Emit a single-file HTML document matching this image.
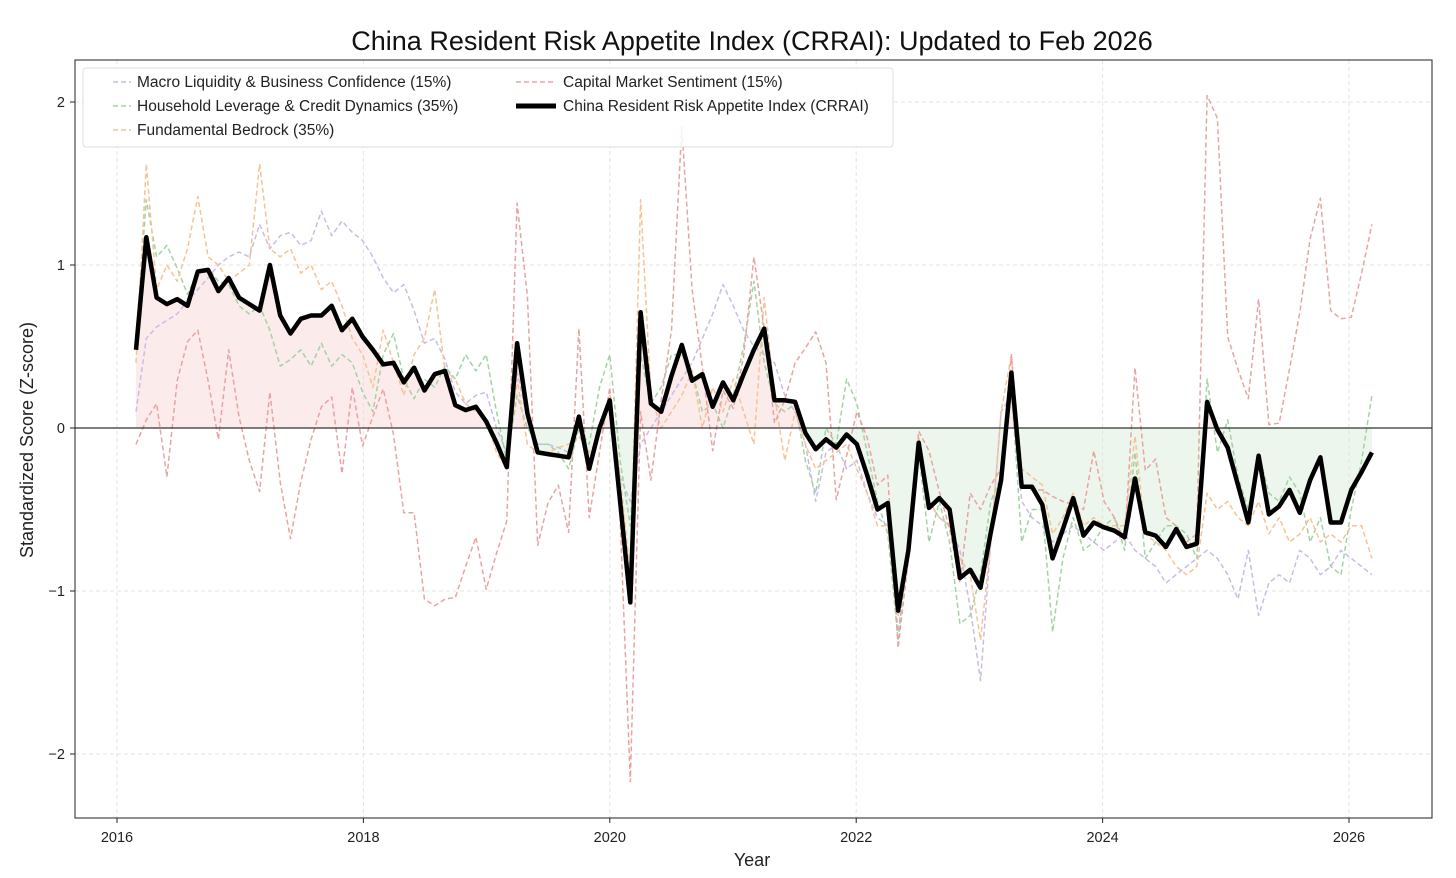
<!DOCTYPE html>
<html><head><meta charset="utf-8"><style>
html,body{margin:0;padding:0;background:#fff;}
svg{display:block;font-family:"Liberation Sans",sans-serif;}
</style></head><body>
<svg id="chart" width="1456" height="878" viewBox="0 0 1456 878" xmlns="http://www.w3.org/2000/svg">
<text x="752" y="50" text-anchor="middle" font-size="27" fill="#111">China Resident Risk Appetite Index (CRRAI): Updated to Feb 2026</text>
<g id="grid"></g>
<g id="fills"></g>
<g id="series"></g>
<rect x="75" y="60" width="1357" height="758" fill="none" stroke="#222" stroke-width="1"/>
<g id="ticks"></g>
<text x="752" y="866" text-anchor="middle" font-size="18" fill="#222">Year</text>
<text transform="translate(33,440) rotate(-90)" text-anchor="middle" font-size="18" fill="#222">Standardized Score (Z-score)</text>
<g>
<rect x="83" y="68" width="810" height="79" rx="3" fill="#fff" fill-opacity="0.85" stroke="#ddd"/>
<g><line x1="113" y1="82" x2="131" y2="82" stroke="#cbbbe6" stroke-width="1.5" stroke-dasharray="5,3"/><text x="137" y="87" font-size="15.5" fill="#222">Macro Liquidity &amp; Business Confidence (15%)</text></g>
<g><line x1="113" y1="106" x2="131" y2="106" stroke="#a3d3a3" stroke-width="1.5" stroke-dasharray="5,3"/><text x="137" y="111" font-size="15.5" fill="#222">Household Leverage &amp; Credit Dynamics (35%)</text></g>
<g><line x1="113" y1="130" x2="131" y2="130" stroke="#f6c395" stroke-width="1.5" stroke-dasharray="5,3"/><text x="137" y="135" font-size="15.5" fill="#222">Fundamental Bedrock (35%)</text></g>
<g><line x1="516" y1="82" x2="556" y2="82" stroke="#eaa3a3" stroke-width="1.5" stroke-dasharray="5,3"/><text x="563" y="87" font-size="15.5" fill="#222">Capital Market Sentiment (15%)</text></g>
<g><line x1="516" y1="106" x2="556" y2="106" stroke="#000" stroke-width="5"/><text x="563" y="111" font-size="15.5" fill="#222">China Resident Risk Appetite Index (CRRAI)</text></g>
</g>
</svg>
<script>
const xTicks=[2016,2018,2020,2022,2024,2026];
const yTicks=[-2,-1,0,1,2];
const startYear=2016.154;
const monthStep=0.0836;
const crrai=[0.48,1.17,0.80,0.76,0.79,0.75,0.96,0.97,0.84,0.92,
0.80,0.76,0.72,1.00,0.69,0.58,0.67,0.69,0.69,0.75,
0.60,0.67,0.56,0.48,0.39,0.40,0.28,0.37,0.23,0.33,
0.35,0.14,0.11,0.13,0.04,-0.09,-0.24,0.52,0.09,-0.15,
-0.16,-0.17,-0.18,0.07,-0.25,0.00,0.17,-0.45,-1.07,0.71,
0.15,0.10,0.32,0.51,0.29,0.33,0.13,0.28,0.17,0.33,
0.48,0.61,0.17,0.17,0.16,-0.03,-0.13,-0.07,-0.12,-0.04,
-0.10,-0.29,-0.50,-0.46,-1.12,-0.75,-0.09,-0.49,-0.43,-0.50,
-0.92,-0.87,-0.98,-0.64,-0.32,0.34,-0.36,-0.36,-0.47,-0.80,
-0.62,-0.43,-0.66,-0.58,-0.61,-0.63,-0.67,-0.31,-0.64,-0.66,
-0.73,-0.62,-0.73,-0.71,0.16,-0.01,-0.12,-0.35,-0.58,-0.17,
-0.53,-0.48,-0.38,-0.52,-0.32,-0.18,-0.58,-0.58,-0.38,-0.27,-0.15];
const macro=[0.10,0.55,0.62,0.66,0.70,0.78,0.85,0.92,1.00,1.05,
1.08,1.05,1.25,1.10,1.18,1.20,1.12,1.15,1.33,1.18,
1.27,1.20,1.15,1.05,0.92,0.83,0.88,0.72,0.52,0.55,
0.42,0.22,0.15,0.20,0.22,0.00,-0.15,0.35,0.05,-0.10,
-0.10,-0.12,-0.15,0.00,-0.20,0.00,0.15,-0.30,-0.45,-0.10,
0.00,0.10,0.20,0.30,0.40,0.55,0.70,0.88,0.75,0.60,
0.50,0.45,0.40,0.20,0.10,-0.10,-0.45,-0.15,-0.10,-0.25,
-0.20,-0.40,-0.55,-0.60,-1.25,-0.70,-0.10,-0.45,-0.55,-0.60,
-0.75,-1.10,-1.55,-0.70,0.10,0.20,-0.45,-0.55,-0.60,-0.70,
-0.65,-0.60,-0.65,-0.70,-0.75,-0.70,-0.65,-0.75,-0.80,-0.85,
-0.95,-0.90,-0.85,-0.80,-0.75,-0.80,-0.90,-1.05,-0.75,-1.15,
-0.95,-0.90,-0.95,-0.75,-0.80,-0.90,-0.85,-0.75,-0.80,-0.85,-0.90];
const household=[0.55,1.40,1.05,1.12,0.98,0.82,0.95,0.98,0.90,0.88,
0.75,0.70,0.75,0.60,0.38,0.42,0.48,0.38,0.52,0.38,
0.45,0.40,0.22,0.10,0.45,0.58,0.30,0.18,0.30,0.25,
0.38,0.30,0.45,0.35,0.45,0.10,-0.20,0.20,0.00,-0.10,
-0.10,-0.15,-0.25,0.00,-0.10,0.25,0.45,-0.20,-0.60,0.45,
0.15,0.25,0.45,0.45,0.35,0.10,0.15,0.00,0.20,0.50,
0.90,0.40,0.15,0.10,0.15,-0.20,-0.40,0.00,-0.10,0.30,
0.15,-0.15,-0.45,-0.65,-1.30,-0.70,-0.15,-0.70,-0.45,-0.70,
-1.20,-1.15,-0.90,-0.45,-0.30,0.25,-0.70,-0.50,-0.50,-1.25,
-0.80,-0.55,-0.75,-0.70,-0.60,-0.55,-0.75,-0.15,-0.80,-0.70,
-0.60,-0.60,-0.65,-0.80,0.30,-0.15,0.05,-0.30,-0.50,-0.15,
-0.40,-0.45,-0.30,-0.40,-0.70,-0.55,-0.85,-0.90,-0.50,-0.20,0.20];
const fundamental=[0.40,1.62,0.85,1.00,0.90,1.10,1.42,1.05,1.00,0.90,
0.95,1.00,1.62,1.10,1.05,1.10,0.95,1.00,0.85,0.90,
0.75,0.55,0.45,0.25,0.60,0.40,0.20,0.45,0.55,0.85,
0.35,0.30,0.15,0.10,0.05,-0.15,-0.25,0.30,-0.10,-0.15,
-0.15,-0.12,-0.10,-0.05,-0.15,-0.05,0.20,-0.30,-0.90,1.40,
0.20,0.00,0.10,0.20,0.35,0.00,0.25,0.10,0.30,0.10,
-0.10,0.80,0.20,-0.20,0.10,-0.10,-0.25,-0.20,-0.15,-0.10,
-0.25,-0.40,-0.60,-0.60,-1.15,-0.70,-0.05,-0.45,-0.55,-0.60,
-0.80,-0.90,-1.30,-0.70,0.10,0.45,-0.25,-0.30,-0.35,-0.65,
-0.55,-0.40,-0.60,-0.55,-0.60,-0.60,-0.60,-0.05,-0.65,-0.70,
-0.75,-0.85,-0.90,-0.85,-0.40,-0.50,-0.45,-0.55,-0.60,-0.45,
-0.65,-0.55,-0.70,-0.65,-0.55,-0.70,-0.65,-0.70,-0.60,-0.60,-0.80];
const capital=[-0.10,0.05,0.15,-0.30,0.29,0.53,0.60,0.29,-0.07,0.48,
0.07,-0.20,-0.39,0.22,-0.33,-0.68,-0.33,-0.07,0.13,0.19,
-0.28,0.25,-0.11,0.07,0.24,-0.04,-0.52,-0.52,-1.05,-1.09,
-1.05,-1.04,-0.85,-0.67,-0.99,-0.77,-0.57,1.38,0.81,-0.72,
-0.46,-0.35,-0.64,0.61,-0.55,-0.15,0.25,-0.55,-2.17,0.10,
-0.32,0.17,0.60,1.85,0.85,0.37,-0.14,0.23,0.12,0.44,
1.05,0.61,0.03,0.17,0.40,0.49,0.59,0.40,-0.44,-0.17,
0.10,-0.06,-0.35,-0.29,-1.35,-0.80,-0.02,-0.14,-0.39,-0.62,
-0.95,-0.40,-0.50,-0.35,-0.25,0.45,-0.35,-0.38,-0.38,-0.42,
-0.45,-0.47,-0.50,-0.14,-0.45,-0.55,-0.70,0.37,-0.26,-0.19,
-0.55,-0.60,-0.70,-0.65,2.04,1.90,0.56,0.36,0.18,0.79,
0.02,0.03,0.36,0.71,1.16,1.41,0.72,0.67,0.68,0.95,1.25];

const NS='http://www.w3.org/2000/svg';
const X0=75,X1=1432,Y0=60,Y1=818;
function xScale(yr){return 117+(yr-2016)*123.2;}
function yScale(v){return 428-v*163;}
function xi(i){return xScale(startYear+i*monthStep);}
function mk(tag,attrs,parent){const e=document.createElementNS(NS,tag);for(const k in attrs)e.setAttribute(k,attrs[k]);parent.appendChild(e);return e;}

const grid=document.getElementById('grid'),ticks=document.getElementById('ticks');
xTicks.forEach(t=>{
  const gl=mk('line',{x1:xScale(t),x2:xScale(t),y1:Y0,y2:Y1,stroke:'#e3e3e3','stroke-dasharray':'4,3'},grid);
  
  
  const tk=mk('line',{x1:xScale(t),x2:xScale(t),y1:Y1,y2:Y1+5,stroke:'#222'},ticks);
  
  
  const lb=mk('text',{x:xScale(t),y:Y1+24,'text-anchor':'middle','font-size':'14.5',fill:'#222'},ticks);
  lb.textContent=t;
  
  
});
yTicks.forEach(t=>{
  const gl=mk('line',{x1:X0,x2:X1,y1:yScale(t),y2:yScale(t),stroke:'#e3e3e3','stroke-dasharray':'4,3'},grid);
  
  
  const tk=mk('line',{x1:X0-5,x2:X0,y1:yScale(t),y2:yScale(t),stroke:'#222'},ticks);
  
  
  const lb=mk('text',{x:X0-10,y:yScale(t)+5,'text-anchor':'end','font-size':'14.5',fill:'#222'},ticks);
  lb.textContent=t===0?'0':(t<0?'\u2212'+Math.abs(t):t);
  
  
});

const fills=document.getElementById('fills');
const defs=mk('defs',{},fills);
const cpA=mk('clipPath',{id:'above'},defs);mk('rect',{x:X0,y:Y0,width:X1-X0,height:yScale(0)-Y0},cpA);
const cpB=mk('clipPath',{id:'below'},defs);mk('rect',{x:X0,y:yScale(0),width:X1-X0,height:Y1-yScale(0)},cpB);
let area='M'+xi(0)+','+yScale(0);
crrai.forEach((v,i)=>{area+=' L'+xi(i).toFixed(1)+','+yScale(v).toFixed(1);});
area+=' L'+xi(crrai.length-1)+','+yScale(0)+' Z';
const fp=mk('path',{d:area,fill:'#f9d3d3','fill-opacity':'0.45','clip-path':'url(#above)'},fills);


const fn=mk('path',{d:area,fill:'#d5ead5','fill-opacity':'0.45','clip-path':'url(#below)'},fills);



const series=document.getElementById('series');
function drawLine(arr,color,w,dash,name){
  const d=arr.map((v,i)=>(i?'L':'M')+xi(i).toFixed(1)+','+yScale(v).toFixed(1)).join(' ');
  const p=mk('path',{d:d,fill:'none',stroke:color,'stroke-width':w,'stroke-linejoin':'round'},series);
  if(dash)p.setAttribute('stroke-dasharray',dash);
  
  
}
drawLine(macro,'#cbbbe6',1.5,'5,3','macro-liquidity-line');
drawLine(household,'#a3d3a3',1.5,'5,3','household-leverage-line');
drawLine(fundamental,'#f6c395',1.5,'5,3','fundamental-bedrock-line');
drawLine(capital,'#eaa3a3',1.5,'5,3','capital-market-line');
const zl=mk('line',{x1:X0,x2:X1,y1:yScale(0),y2:yScale(0),stroke:'#333','stroke-width':1.3},series);


drawLine(crrai,'#000',4.5,null,'crrai-line');
</script>
</body></html>
